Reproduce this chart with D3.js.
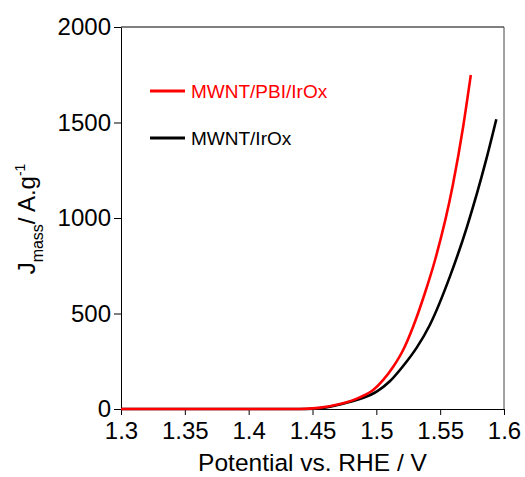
<!DOCTYPE html>
<meta charset="utf-8">
<style>
    body { margin: 0; background: #fff; }
    text { font-family: Arial, "Liberation Sans", sans-serif; fill: #000; }
    .axis path, .axis line { stroke: #000; }
    .axis text { font-size: 24px; }
</style>

<svg width="525" height="477"></svg>

<script src="https://cdn.jsdelivr.net/npm/d3@7"></script>
<script>

    // DATA

    var seriesNames = ["MWNT/PBI/IrOx", "MWNT/IrOx"];
    var seriesColors = ["#ff0000", "#000000"];

    var potentialPbi = [1.300, 1.400, 1.440, 1.455, 1.4715, 1.487, 1.4975, 1.5054, 1.5132, 1.521, 1.5288, 1.538, 1.546, 1.560, 1.568, 1.574];
    var jPbi         = [0,     0,     0,     6,     26,     61,    99,     152,    221,    309,   431,    606,   780,   1175,  1478,  1749];

    var potentialPlain = [1.300, 1.400, 1.445, 1.458, 1.4715, 1.487, 1.5002, 1.5106, 1.521, 1.5315, 1.5419, 1.5576, 1.571, 1.586, 1.594];
    var jPlain         = [0,     0,     0,     6,     24,     52,    91,     145,    225,   320,    440,    693,    954,   1304,  1517];

    var xTicks = [1.3, 1.35, 1.4, 1.45, 1.5, 1.55, 1.6];
    var xTickLabels = ["1.3", "1.35", "1.4", "1.45", "1.5", "1.55", "1.6"];
    var yTicks = [0, 500, 1000, 1500, 2000];

    // SETUP

    var svg = d3.select("svg"),
        plotLeft = 121, plotRight = 504, plotTop = 27, plotBottom = 409;

    var x = d3.scaleLinear().domain([1.3, 1.6]).range([plotLeft, plotRight]),
        y = d3.scaleLinear().domain([0, 2000]).range([plotBottom, plotTop]);

    // frame (top + right)
    svg.append("line").attr("x1", plotLeft).attr("x2", plotRight).attr("y1", plotTop).attr("y2", plotTop)
        .attr("stroke", "#000");
    svg.append("line").attr("x1", plotRight).attr("x2", plotRight).attr("y1", plotTop).attr("y2", plotBottom)
        .attr("stroke", "#444");

    // axes
    svg.append("g")
        .attr("class", "axis axis--x")
        .attr("transform", "translate(0," + plotBottom + ")")
        .call(d3.axisBottom(x).tickValues(xTicks)
            .tickFormat(function (d, i) { return xTickLabels[i]; })
            .tickSize(6).tickSizeOuter(0).tickPadding(7));

    svg.append("g")
        .attr("class", "axis axis--y")
        .attr("transform", "translate(" + plotLeft + ",0)")
        .call(d3.axisLeft(y).tickValues(yTicks)
            .tickFormat(d3.format("d"))
            .tickSize(7).tickSizeOuter(0).tickPadding(3));

    // curves
    var series = [
        { v: potentialPbi, j: jPbi },
        { v: potentialPlain, j: jPlain }
    ];

    var line = d3.line()
        .x(function (d) { return x(d[0]); })
        .y(function (d) { return y(d[1]); })
        .curve(d3.curveMonotoneX);

    // draw black first so red sits on top near the baseline
    [1, 0].forEach(function (i) {
        var pts = series[i].v.map(function (v, k) { return [v, series[i].j[k]]; });
        svg.append("path")
            .datum(pts)
            .attr("fill", "none")
            .attr("stroke", seriesColors[i])
            .attr("stroke-width", 2.6)
            .attr("d", line);
    });

    // legend
    var legendY = [91, 138];
    seriesNames.forEach(function (name, i) {
        svg.append("line")
            .attr("x1", 150).attr("x2", 185)
            .attr("y1", legendY[i]).attr("y2", legendY[i])
            .attr("stroke", seriesColors[i])
            .attr("stroke-width", 3);
        svg.append("text")
            .attr("x", 191).attr("y", legendY[i] + 7)
            .style("font-size", "19px")
            .style("fill", seriesColors[i])
            .text(name);
    });

    // axis titles
    svg.append("text")
        .attr("x", (plotLeft + plotRight) / 2).attr("y", 471)
        .attr("text-anchor", "middle")
        .style("font-size", "24.5px")
        .text("Potential vs. RHE / V");

    var yTitle = svg.append("text")
        .attr("transform", "translate(35,219) rotate(-90)")
        .attr("text-anchor", "middle")
        .style("font-size", "24px");
    yTitle.append("tspan").text("J");
    yTitle.append("tspan").attr("dy", 8).style("font-size", "16px").text("mass");
    yTitle.append("tspan").attr("dy", -8).text("/ A.g");
    yTitle.append("tspan").attr("dy", -10).style("font-size", "14px").text("-1");

</script>
